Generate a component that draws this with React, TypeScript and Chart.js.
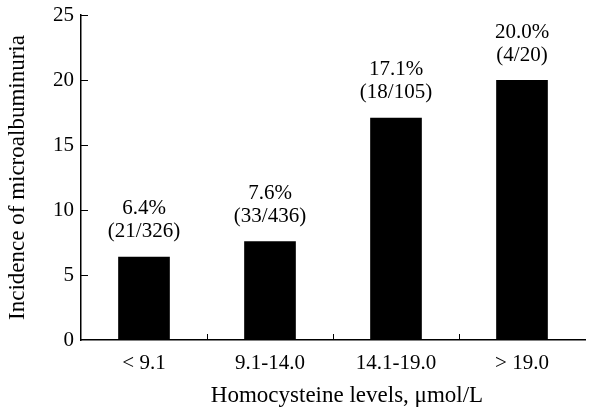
import React, { useEffect, useRef } from "react";
import { Chart, registerables } from "chart.js";

Chart.register(...registerables);

const categories = ["< 9.1", "9.1-14.0", "14.1-19.0", "> 19.0"];
const incidence = [6.4, 7.6, 17.1, 20.0];
const percentLabels = ["6.4%", "7.6%", "17.1%", "20.0%"];
const countLabels = ["(21/326)", "(33/436)", "(18/105)", "(4/20)"];
const yTicks = [0, 5, 10, 15, 20, 25];
const xTitle = "Homocysteine levels, μmol/L";
const yTitle = "Incidence of microalbuminuria";

const FONT = "'Liberation Serif', 'Times New Roman', serif";

const barLabelPlugin = {
  id: "barLabels",
  afterDatasetsDraw(chart: any) {
    const ctx = chart.ctx;
    const meta = chart.getDatasetMeta(0);
    ctx.save();
    ctx.fillStyle = "#000";
    ctx.font = `21px ${FONT}`;
    ctx.textAlign = "center";
    ctx.textBaseline = "middle";
    meta.data.forEach((bar: any, i: number) => {
      ctx.fillText(countLabels[i], bar.x, bar.y - 25);
      ctx.fillText(percentLabels[i], bar.x, bar.y - 48);
    });
    ctx.restore();
  },
};

const innerTickPlugin = {
  id: "innerTicks",
  afterDraw(chart: any) {
    const ctx = chart.ctx;
    const x = chart.scales.x;
    const y = chart.scales.y;
    const { bottom, left, right } = chart.chartArea;
    ctx.save();
    ctx.strokeStyle = "#000";
    ctx.lineWidth = 1;
    for (let i = 0; i < categories.length - 1; i++) {
      const px = (x.getPixelForValue(i) + x.getPixelForValue(i + 1)) / 2;
      const rx = Math.round(px) + 0.5;
      ctx.beginPath();
      ctx.moveTo(rx, bottom);
      ctx.lineTo(rx, bottom - 6);
      ctx.stroke();
    }
    yTicks.forEach((v) => {
      if (v === 0) return;
      const py = Math.round(y.getPixelForValue(v)) + 0.5;
      ctx.beginPath();
      ctx.moveTo(left, py);
      ctx.lineTo(left + 7, py);
      ctx.stroke();
    });
    // x axis title (slightly right of centre, as in the original)
    ctx.fillStyle = "#000";
    ctx.font = `23px ${FONT}`;
    ctx.textAlign = "center";
    ctx.textBaseline = "alphabetic";
    ctx.fillText(xTitle, (left + right) / 2 + 14, 402);
    ctx.restore();
  },
};

export default function App() {
  const ref = useRef<HTMLCanvasElement>(null);
  useEffect(() => {
    document.body.style.margin = "0";
    const chart = new Chart(ref.current!, {
      type: "bar",
      data: {
        labels: categories,
        datasets: [
          {
            data: incidence,
            backgroundColor: "#000",
            borderWidth: 0,
            barPercentage: 0.41,
            categoryPercentage: 1,
          },
        ],
      },
      options: {
        animation: false,
        responsive: false,
        maintainAspectRatio: false,
        layout: { padding: { left: 0, right: 24, top: 15, bottom: 0 } },
        plugins: { legend: { display: false }, tooltip: { enabled: false } },
        scales: {
          x: {
            grid: { display: false, drawTicks: false },
            border: { display: true, color: "#000", width: 1.5 },
            ticks: { color: "#000", font: { family: FONT, size: 21 }, padding: 11 },
            afterFit(scale: any) {
              scale.height = 67;
            },
          },
          y: {
            min: 0,
            max: 25,
            afterBuildTicks(scale: any) {
              scale.ticks = yTicks.map((v) => ({ value: v }));
            },
            grid: { display: false, drawTicks: false },
            border: { display: true, color: "#000", width: 1.5 },
            ticks: { color: "#000", font: { family: FONT, size: 21 }, padding: 7 },
            title: {
              display: true,
              text: yTitle,
              color: "#000",
              font: { family: FONT, size: 23 },
              padding: { top: 4, bottom: 4 },
            },
            afterFit(scale: any) {
              scale.width = 81;
              scale.paddingTop = 0;
              scale.paddingBottom = 0;
            },
          },
        },
      },
      plugins: [barLabelPlugin, innerTickPlugin],
    });
    return () => chart.destroy();
  }, []);
  return <canvas ref={ref} width={609} height={407} style={{ display: "block" }} />;
}
